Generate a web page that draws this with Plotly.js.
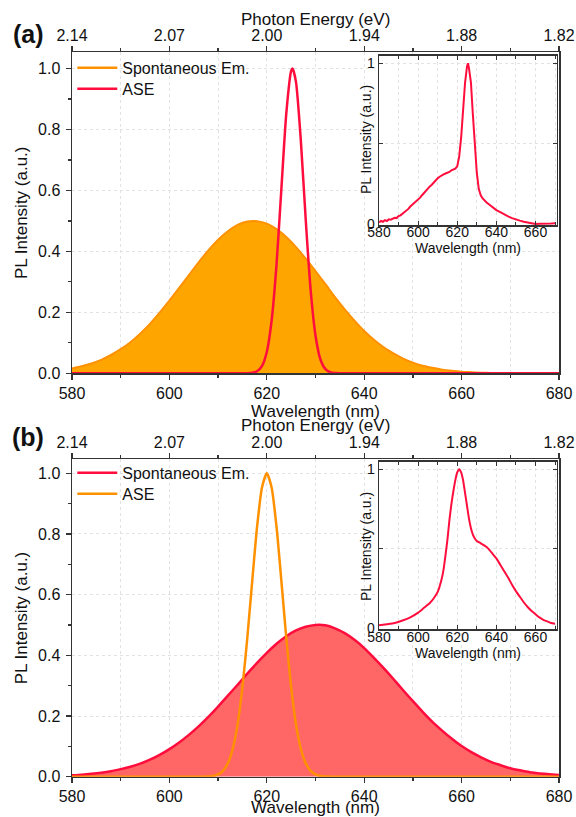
<!DOCTYPE html>
<html><head><meta charset="utf-8">
<script src="https://cdn.plot.ly/plotly-3.0.1.min.js"></script>
<style>html,body{margin:0;padding:0;background:#fff}#chart{width:576px;height:817px}</style>
</head><body><div id="chart"></div>
<script>
// ---------- data ----------
const wavelength = [580,582,584,586,588,590,592,594,596,598,600,602,604,606,608,610,612,614,616,618,620,622,624,626,628,630,632,634,636,638,640,642,644,646,648,650,652,654,656,658,660,662,664,666,668,670,672,674,676,678,680];
const spontA = [0.016,0.023,0.032,0.044,0.060,0.079,0.102,0.130,0.162,0.199,0.238,0.280,0.322,0.364,0.403,0.438,0.466,0.487,0.498,0.499,0.491,0.473,0.447,0.414,0.376,0.335,0.293,0.250,0.210,0.173,0.139,0.110,0.085,0.065,0.048,0.035,0.025,0.018,0.012,0.008,0.005,0.0035,0.002,0.0013,0.0008,0.0005,0.0003,0.0002,0.0001,0.0001,0.0];
const aseA_wl = [580,600,610,614,615,616,617,618,619,620,621,622,623,624,625,625.3,626,627,628,629,630,631,632,633,634,635,636,640,650,680];
const aseA = [0,0,0,0,0,0.0003,0.0015,0.0065,0.0235,0.070,0.174,0.357,0.607,0.852,0.992,1.0,0.955,0.761,0.502,0.274,0.124,0.046,0.0144,0.0037,0.0008,0.0001,0,0,0,0];
const spontB = [0.0046,0.0067,0.0094,0.013,0.018,0.025,0.033,0.043,0.056,0.072,0.091,0.113,0.138,0.166,0.197,0.231,0.267,0.303,0.340,0.375,0.408,0.438,0.463,0.482,0.494,0.500,0.499,0.489,0.473,0.451,0.424,0.392,0.358,0.322,0.285,0.249,0.214,0.181,0.152,0.125,0.101,0.081,0.064,0.049,0.038,0.028,0.021,0.015,0.011,0.008,0.0056];
const aseB_wl = [580,595,600,604,606,607,608,609,610,611,612,613,614,615,616,617,618,619,620,621,622,623,624,625,626,627,628,629,630,631,632,633,634,636,640,650,680];
const aseB = [0,0,0,0,0,0.0003,0.0009,0.0027,0.0076,0.0192,0.0439,0.0914,0.172,0.295,0.458,0.644,0.823,0.952,1.0,0.952,0.823,0.644,0.458,0.295,0.172,0.0914,0.0439,0.0192,0.0076,0.0027,0.0009,0.0003,0,0,0,0,0];
const insetA_wl = [580,581,582,583,584,585,586,587,588,589,590,591,592,593,594,595,596,597,598,599,600,601,602,603,604,605,606,607,608,609,610,611,612,613,614,615,616,617,618,619,620,621,622,623,624,625,625.5,626,627,628,629,630,631,632,633,634,635,636,638,640,642,644,646,648,650,652,654,656,658,660,662,664,666,668,670];
const insetA = [0.010,0.020,0.015,0.025,0.020,0.030,0.028,0.035,0.040,0.038,0.050,0.055,0.065,0.070,0.085,0.095,0.110,0.120,0.130,0.145,0.155,0.165,0.180,0.195,0.210,0.225,0.235,0.245,0.260,0.270,0.285,0.295,0.305,0.310,0.315,0.320,0.325,0.335,0.340,0.345,0.360,0.420,0.540,0.720,0.880,0.980,1.000,0.970,0.880,0.680,0.470,0.320,0.220,0.180,0.160,0.145,0.135,0.125,0.105,0.088,0.075,0.060,0.048,0.038,0.028,0.022,0.015,0.010,0.004,0.002,0.003,0.002,0.003,0.004,0.006];
const insetB_wl = [580,584,588,592,596,600,603,606,608,610,612,613,614,615,616,617,618,619,620,621,622,623,624,625,626,627,628,629,630,632,634,636,638,640,642,644,646,648,650,652,654,656,658,660,662,664,666,668,670];
const insetB = [0.020,0.027,0.035,0.050,0.070,0.100,0.130,0.160,0.190,0.230,0.310,0.370,0.460,0.560,0.680,0.780,0.860,0.930,0.980,1.000,0.980,0.930,0.850,0.770,0.690,0.630,0.590,0.565,0.550,0.535,0.520,0.500,0.470,0.440,0.400,0.360,0.320,0.275,0.235,0.200,0.165,0.135,0.110,0.090,0.070,0.055,0.045,0.035,0.030];
const wlTicks = [580,600,620,640,660,680];
const energyLabels = ['2.14','2.07','2.00','1.94','1.88','1.82'];
const seriesNames = ['Spontaneous Em.','ASE'];
const panelLabels = ['(a)','(b)'];
const axisTitles = {wl:'Wavelength (nm)', energy:'Photon Energy (eV)', pl:'PL Intensity (a.u.)'};

// ---------- styles ----------
const FONT = 'Liberation Sans, Arial, sans-serif';
const ORANGE_FILL = '#FFA500', ORANGE_LINE = '#FF9100';
const RED_LINE = '#FF0D3D', RED_FILL = '#FF6666';
const AX = '#333333', GRID = '#e2e2e2';
const minorWl = wlTicks.slice(0,-1).map((v,i)=>(v+wlTicks[i+1])/2);
const TICKF = 16, TITLEF = 17;

function legendEntry(name, color, legendId){
  return {x:[null], y:[null], type:'scatter', mode:'lines', line:{color, width:2.5}, name, legend:legendId, xaxis:'x', yaxis:'y', hoverinfo:'skip'};
}

const traces = [
  {x: wavelength, y: spontA, type:'scatter', mode:'lines', fill:'tozeroy', fillcolor:ORANGE_FILL,
   line:{color:ORANGE_LINE, width:2, shape:'spline', smoothing:0.6}, xaxis:'x', yaxis:'y', showlegend:false},
  {x: aseA_wl, y: aseA, type:'scatter', mode:'lines',
   line:{color:RED_LINE, width:2.5, shape:'spline', smoothing:0.6}, xaxis:'x', yaxis:'y', showlegend:false},
  {x: wlTicks, y: wlTicks.map(()=>null), type:'scatter', mode:'lines', xaxis:'x2', yaxis:'y', showlegend:false, hoverinfo:'skip'},
  {x: insetA_wl, y: insetA, type:'scatter', mode:'lines', line:{color:RED_LINE, width:2}, xaxis:'x3', yaxis:'y3', showlegend:false},

  {x: wavelength, y: spontB, type:'scatter', mode:'lines', fill:'tozeroy', fillcolor:RED_FILL,
   line:{color:RED_LINE, width:2.5, shape:'spline', smoothing:0.6}, xaxis:'x4', yaxis:'y4', showlegend:false},
  {x: aseB_wl, y: aseB, type:'scatter', mode:'lines',
   line:{color:ORANGE_LINE, width:2.5, shape:'spline', smoothing:0.6}, xaxis:'x4', yaxis:'y4', showlegend:false},
  {x: wlTicks, y: wlTicks.map(()=>null), type:'scatter', mode:'lines', xaxis:'x5', yaxis:'y4', showlegend:false, hoverinfo:'skip'},
  {x: insetB_wl, y: insetB, type:'scatter', mode:'lines', line:{color:RED_LINE, width:2, shape:'spline', smoothing:0.5}, xaxis:'x6', yaxis:'y6', showlegend:false},

  legendEntry(seriesNames[0], ORANGE_LINE, 'legend'),
  legendEntry(seriesNames[1], RED_LINE, 'legend2'),
  legendEntry(seriesNames[0], RED_LINE, 'legend3'),
  legendEntry(seriesNames[1], ORANGE_LINE, 'legend4')
];

function mainX(anchor){
  return {domain:[0.125,0.9705], anchor, range:[580,680], tickmode:'array', tickvals:wlTicks,
    ticks:'outside', ticklen:5, tickwidth:1.3, tickcolor:AX, showline:true, linecolor:AX, linewidth:1.5,
    showgrid:true, gridcolor:GRID, griddash:'dot', zeroline:false,
    tickfont:{size:TICKF, color:'#111'}, title:{text:axisTitles.wl, font:{size:TITLEF, color:'#111'}, standoff:1},
    minor:{tickmode:'array', tickvals:minorWl, ticks:'outside', ticklen:3, tickcolor:AX, showgrid:true, gridcolor:GRID, griddash:'dot'}};
}
function topX(overlay, anchor){
  return {overlaying:overlay, side:'top', anchor, range:[580,680], tickmode:'array', tickvals:wlTicks, ticktext:energyLabels,
    ticks:'outside', ticklen:5, tickwidth:1.3, tickcolor:AX, showline:true, linecolor:AX, linewidth:1.5,
    showgrid:false, zeroline:false, tickfont:{size:TICKF, color:'#111'}, ticklabelstandoff:-2,
    minor:{tickmode:'array', tickvals:minorWl, ticks:'outside', ticklen:3, tickcolor:AX, showgrid:false}};
}
function mainY(domain, anchor, top){
  return {domain, anchor, range:[0, top], tickmode:'linear', tick0:0, dtick:0.2, tickformat:'.1f',
    ticks:'outside', ticklen:5, tickwidth:1.3, tickcolor:AX, showline:true, mirror:true, linecolor:AX, linewidth:1.5,
    showgrid:true, gridcolor:GRID, griddash:'dot', zeroline:false, ticklabelstandoff:2,
    tickfont:{size:TICKF, color:'#111'}, title:{text:axisTitles.pl, font:{size:TITLEF, color:'#111'}, standoff:6},
    minor:{tick0:0, dtick:0.1, ticks:'outside', ticklen:3, tickcolor:AX, showgrid:false}};
}
function insetX(anchor){
  return {domain:[0.658,0.967], anchor, range:[580,671], tickmode:'linear', tick0:580, dtick:20,
    ticks:'inside', ticklen:4, tickcolor:AX, showline:true, mirror:'ticks', linecolor:AX, linewidth:1.5,
    showgrid:true, gridcolor:GRID, griddash:'dot', zeroline:false, tickfont:{size:14, color:'#111'}, ticklabelstandoff:-6,
    title:{text:axisTitles.wl, font:{size:14, color:'#111'}, standoff:0},
    minor:{tick0:580, dtick:10, ticks:'inside', ticklen:3, tickcolor:AX, showgrid:true, gridcolor:GRID, griddash:'dot'}};
}
function insetY(domain, anchor){
  return {domain, anchor, range:[-0.005,1.047], tickmode:'array', tickvals:[0,0.5,1], ticktext:['0','','1'],
    ticks:'inside', ticklen:4, tickcolor:AX, showline:true, mirror:'ticks', linecolor:AX, linewidth:1.5,
    showgrid:true, gridcolor:GRID, griddash:'dot', zeroline:false, tickfont:{size:14, color:'#111'}};
}
function legendAt(yTopPx){
  return {x:0.1255, y:1-yTopPx/817, xanchor:'left', yanchor:'top', bgcolor:'rgba(0,0,0,0)', font:{size:16, color:'#111'}, itemwidth:40};
}
function textAt(text, xPx, yPx, size, extra){
  return Object.assign({text, xref:'paper', yref:'paper', x:xPx/576, y:1-yPx/817, xanchor:'center', yanchor:'middle',
    showarrow:false, font:{size, color:'#111'}}, extra||{});
}

const layout = {
  width:576, height:817, margin:{l:0,r:0,t:0,b:0}, paper_bgcolor:'#fff', plot_bgcolor:'#fff',
  font:{family:FONT, color:'#111'},
  xaxis: mainX('y'), yaxis: mainY([0.5431,0.936],'x',1.053), xaxis2: topX('x','y'),
  xaxis3: insetX('y3'), yaxis3: insetY([0.7246,0.9318],'x3'),
  xaxis4: mainX('y4'), yaxis4: mainY([0.0493,0.4378],'x4',1.046), xaxis5: topX('x4','y4'),
  xaxis6: insetX('y6'), yaxis6: insetY([0.2297,0.4349],'x6'),
  legend: legendAt(50.9), legend2: legendAt(71.9), legend3: legendAt(455.9), legend4: legendAt(476.9),
  showlegend:true,
  annotations:[
    textAt('<b>'+panelLabels[0]+'</b>', 28, 34, 25),
    textAt('<b>'+panelLabels[1]+'</b>', 28, 437, 25),
    textAt(axisTitles.energy, 315.5, 20, TITLEF),
    textAt(axisTitles.energy, 315.5, 426, TITLEF),
    textAt(axisTitles.pl, 366, 140, 14, {textangle:-90}),
    textAt(axisTitles.pl, 366, 547, 14, {textangle:-90})
  ]
};
Plotly.newPlot('chart', traces, layout, {staticPlot:true, displayModeBar:false});
</script></body></html>
